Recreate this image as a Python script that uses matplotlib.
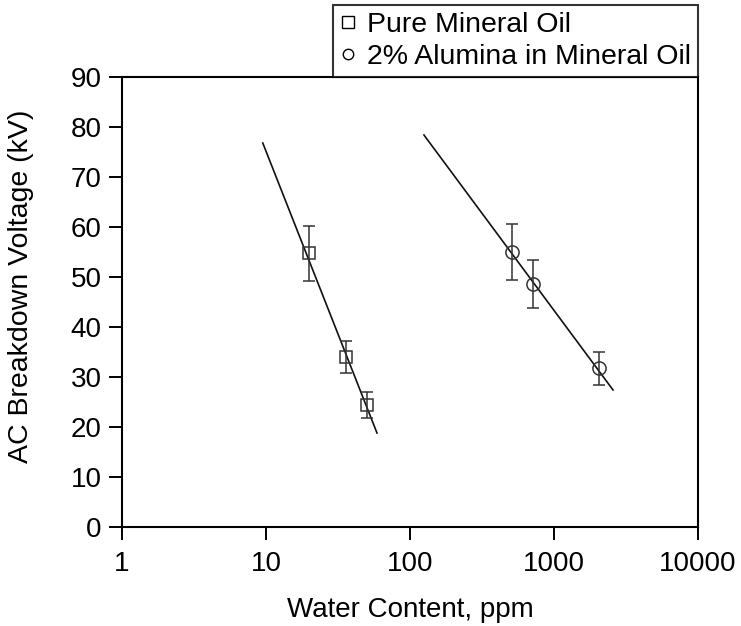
import matplotlib
matplotlib.use("Agg")
import matplotlib.pyplot as plt

plt.rcParams['font.family'] = ['Liberation Sans', 'DejaVu Sans']

# pure mineral oil
pure_x = [20, 36, 50]
pure_y = [54.8, 34.0, 24.4]
pure_err = [5.5, 3.2, 2.6]
pure_fit_x = [9.5, 59]
pure_fit_y = [76.8, 18.8]

# 2% alumina in mineral oil
alum_x = [510, 715, 2050]
alum_y = [55.0, 48.6, 31.8]
alum_err = [5.6, 4.8, 3.3]
alum_fit_x = [125, 2570]
alum_fit_y = [78.4, 27.4]

xticks = [1, 10, 100, 1000, 10000]
xlabels = ['1', '10', '100', '1000', '10000']
yticks = list(range(0, 100, 10))

fig = plt.figure(figsize=(7.41, 6.26), dpi=100)
ax = fig.add_axes([0.1646, 0.1581, 0.7774, 0.7189])

ecol = '#333333'
ax.plot(pure_fit_x, pure_fit_y, color='#111111', lw=1.2, zorder=2)
ax.plot(alum_fit_x, alum_fit_y, color='#111111', lw=1.2, zorder=2)

ax.errorbar(pure_x, pure_y, yerr=pure_err, fmt='s', ms=8.5, mfc='none',
            mec=ecol, mew=1.1, ecolor=ecol, elinewidth=1.1, capsize=4.5,
            capthick=1.1, zorder=3)
ax.errorbar(alum_x, alum_y, yerr=alum_err, fmt='o', ms=9.5, mfc='none',
            mec=ecol, mew=1.1, ecolor=ecol, elinewidth=1.1, capsize=4.5,
            capthick=1.1, zorder=3)

ax.set_xscale('log')
ax.set_xlim(1, 10000)
ax.set_ylim(0, 90)
ax.set_xticks(xticks)
ax.set_xticklabels(xlabels)
ax.minorticks_off()
ax.set_yticks(yticks)
ax.tick_params(direction='out', length=9.5, width=1.4, labelsize=20)
ax.tick_params(axis='x', pad=8)
ax.tick_params(axis='y', pad=5)
for s in ax.spines.values():
    s.set_linewidth(1.5)

ax.set_xlabel('Water Content, ppm', fontsize=20, labelpad=14)
ax.set_ylabel('AC Breakdown Voltage (kV)', fontsize=20.5)
ax.yaxis.set_label_coords(-0.152, 0.535)

# legend handles
h1, = ax.plot([], [], 's', ms=8.5, mfc='none', mec='black', mew=1.0)
h2, = ax.plot([], [], 'o', ms=7.5, mfc='none', mec='black', mew=1.0)
leg = ax.legend([h1, h2], ['Pure Mineral Oil', '2% Alumina in Mineral Oil'],
                loc='lower right', bbox_to_anchor=(1.0, 1.0), borderaxespad=0,
                fontsize=20.5, frameon=True, fancybox=False, handlelength=0.6,
                handletextpad=0.35, labelspacing=0.2, borderpad=0.25)
leg.get_frame().set_edgecolor('black')
leg.get_frame().set_linewidth(1.5)

fig.savefig('out.png', dpi=100)
